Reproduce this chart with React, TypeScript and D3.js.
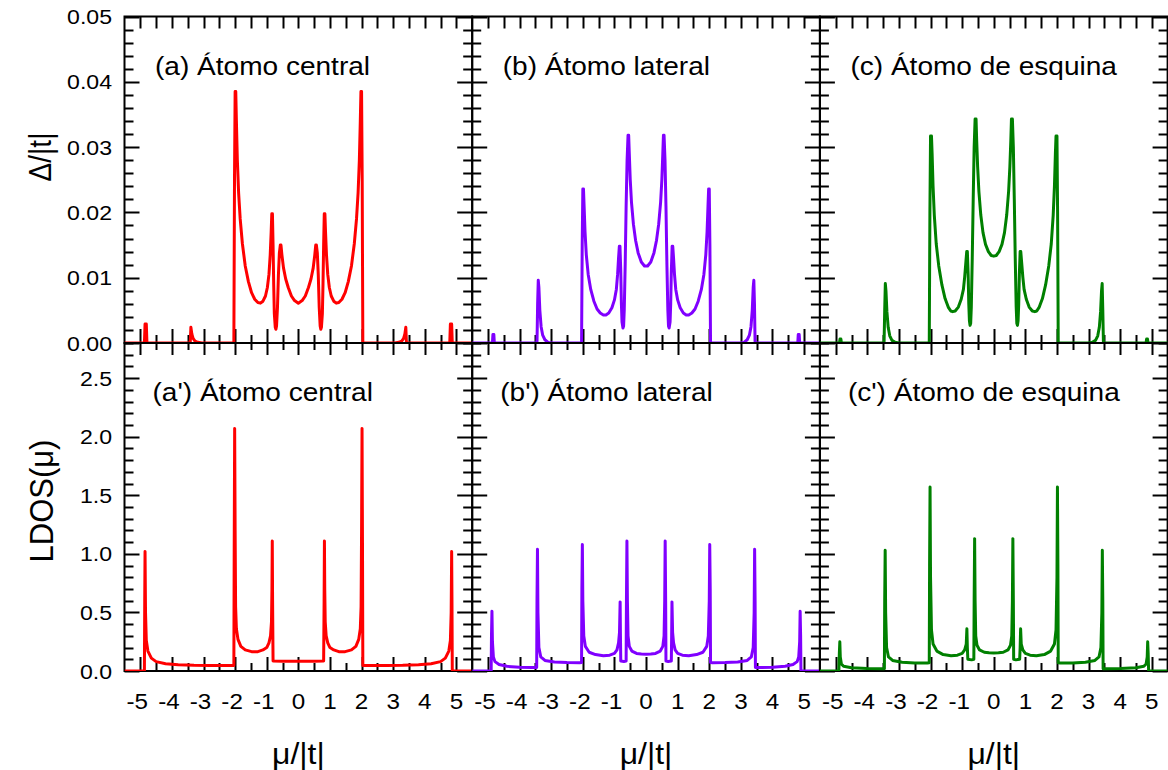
import React from 'react';
import * as d3 from 'd3';

type Pt = [number, number];

const X_DOMAIN: [number, number] = [-5.5, 5.5];
const X_TICK_LABELS = [-5, -4, -3, -2, -1, 0, 1, 2, 3, 4, 5];
const GAP_DOMAIN: [number, number] = [0, 0.05];
const GAP_TICKS = [0, 0.01, 0.02, 0.03, 0.04, 0.05];
const LDOS_DOMAIN: [number, number] = [0, 2.8];
const LDOS_TICKS = [0, 0.5, 1.0, 1.5, 2.0, 2.5];
const PANEL_COLORS = ['#ff0000', '#8000ff', '#008000'];
const GAP_LABELS = ['(a) Átomo central', '(b) Átomo lateral', '(c) Átomo de esquina'];
const LDOS_LABELS = ["(a') Átomo central", "(b') Átomo lateral", "(c') Átomo de esquina"];

// Δ/|t| — central atom
const gapCentral: Pt[] = [
  [-5.5, 0], [-4.87, 0], [-4.85, 0.0029], [-4.81, 0.0029], [-4.79, 0],
  [-3.42, 0], [-3.4, 0.0024], [-3.37, 0.0014], [-3.33, 0.0007], [-3.27, 0.0003], [-3.18, 0.0001], [-3.05, 0],
  [-2.04, 0], [-2.02, 0.025], [-2.0, 0.0385], [-1.98, 0.0385], [-1.96, 0.034], [-1.93, 0.028], [-1.89, 0.023],
  [-1.84, 0.019], [-1.77, 0.0152], [-1.68, 0.0118], [-1.58, 0.0094], [-1.48, 0.0077], [-1.38, 0.0067],
  [-1.28, 0.0062], [-1.2, 0.0061], [-1.12, 0.0064], [-1.04, 0.0072], [-0.98, 0.0085], [-0.93, 0.0105],
  [-0.89, 0.0135], [-0.86, 0.017], [-0.84, 0.0198], [-0.82, 0.0198], [-0.8, 0.015], [-0.78, 0.009],
  [-0.76, 0.0045], [-0.73, 0.0024], [-0.71, 0.0021], [-0.69, 0.0026], [-0.66, 0.0055], [-0.63, 0.0105],
  [-0.6, 0.0138], [-0.57, 0.015], [-0.55, 0.015], [-0.52, 0.0135], [-0.47, 0.0115], [-0.4, 0.0098],
  [-0.32, 0.0085], [-0.22, 0.0072], [-0.12, 0.0065], [0, 0.0061],
  [0.12, 0.0065], [0.22, 0.0072], [0.32, 0.0085], [0.4, 0.0098], [0.47, 0.0115], [0.52, 0.0135],
  [0.55, 0.015], [0.57, 0.015], [0.6, 0.0138], [0.63, 0.0105], [0.66, 0.0055], [0.69, 0.0026],
  [0.71, 0.0021], [0.73, 0.0024], [0.76, 0.0045], [0.78, 0.009], [0.8, 0.015], [0.82, 0.0198],
  [0.84, 0.0198], [0.86, 0.017], [0.89, 0.0135], [0.93, 0.0105], [0.98, 0.0085], [1.04, 0.0072],
  [1.12, 0.0064], [1.2, 0.0061], [1.28, 0.0062], [1.38, 0.0067], [1.48, 0.0077], [1.58, 0.0094],
  [1.68, 0.0118], [1.77, 0.0152], [1.84, 0.019], [1.89, 0.023], [1.93, 0.028], [1.96, 0.034],
  [1.98, 0.0385], [2.0, 0.0385], [2.02, 0.025], [2.04, 0],
  [3.05, 0], [3.18, 0.0001], [3.27, 0.0003], [3.33, 0.0007], [3.37, 0.0014], [3.4, 0.0024], [3.42, 0],
  [4.79, 0], [4.81, 0.0029], [4.85, 0.0029], [4.87, 0], [5.5, 0],
];

// Δ/|t| — lateral atom
const gapLateral: Pt[] = [
  [-5.5, 0], [-4.86, 0], [-4.845, 0.0013], [-4.815, 0.0013], [-4.8, 0],
  [-3.45, 0], [-3.43, 0.006], [-3.41, 0.0096], [-3.39, 0.0085], [-3.36, 0.005], [-3.32, 0.0025],
  [-3.27, 0.0012], [-3.2, 0.0005], [-3.1, 0.0001], [-3.0, 0],
  [-2.04, 0], [-2.02, 0.015], [-2.0, 0.0236], [-1.98, 0.0236], [-1.96, 0.021], [-1.93, 0.017],
  [-1.89, 0.0135], [-1.83, 0.0105], [-1.75, 0.0082], [-1.65, 0.0064], [-1.55, 0.0052], [-1.45, 0.0046],
  [-1.35, 0.0043], [-1.27, 0.0043], [-1.18, 0.0046], [-1.08, 0.0054], [-1.0, 0.0066], [-0.94, 0.0082],
  [-0.9, 0.0105], [-0.87, 0.013], [-0.845, 0.0148], [-0.825, 0.0148], [-0.8, 0.011], [-0.78, 0.006],
  [-0.76, 0.0032], [-0.73, 0.0023], [-0.71, 0.0026], [-0.69, 0.005], [-0.66, 0.012], [-0.63, 0.021],
  [-0.6, 0.028], [-0.57, 0.0318], [-0.55, 0.0318], [-0.53, 0.029], [-0.5, 0.025], [-0.46, 0.0215],
  [-0.4, 0.0182], [-0.33, 0.0157], [-0.25, 0.0138], [-0.15, 0.0124], [-0.05, 0.0118], [0, 0.0118],
  [0.05, 0.0118], [0.15, 0.0124], [0.25, 0.0138], [0.33, 0.0157], [0.4, 0.0182], [0.46, 0.0215],
  [0.5, 0.025], [0.53, 0.029], [0.55, 0.0318], [0.57, 0.0318], [0.6, 0.028], [0.63, 0.021],
  [0.66, 0.012], [0.69, 0.005], [0.71, 0.0026], [0.73, 0.0023], [0.76, 0.0032], [0.78, 0.006],
  [0.8, 0.011], [0.825, 0.0148], [0.845, 0.0148], [0.87, 0.013], [0.9, 0.0105], [0.94, 0.0082],
  [1.0, 0.0066], [1.08, 0.0054], [1.18, 0.0046], [1.27, 0.0043], [1.35, 0.0043], [1.45, 0.0046],
  [1.55, 0.0052], [1.65, 0.0064], [1.75, 0.0082], [1.83, 0.0105], [1.89, 0.0135], [1.93, 0.017],
  [1.96, 0.021], [1.98, 0.0236], [2.0, 0.0236], [2.02, 0.015], [2.04, 0],
  [3.0, 0], [3.1, 0.0001], [3.2, 0.0005], [3.27, 0.0012], [3.32, 0.0025], [3.36, 0.005], [3.39, 0.0085],
  [3.41, 0.0096], [3.43, 0.006], [3.45, 0],
  [4.8, 0], [4.815, 0.0013], [4.845, 0.0013], [4.86, 0], [5.5, 0],
];

// Δ/|t| — corner atom
const gapCorner: Pt[] = [
  [-5.5, 0], [-4.88, 0], [-4.865, 0.0006], [-4.835, 0.0006], [-4.82, 0],
  [-3.47, 0], [-3.45, 0.005], [-3.43, 0.0091], [-3.41, 0.008], [-3.38, 0.0048], [-3.34, 0.0024],
  [-3.29, 0.0011], [-3.22, 0.0004], [-3.12, 0.0001], [-3.0, 0],
  [-2.04, 0], [-2.02, 0.02], [-2.0, 0.0317], [-1.97, 0.0317], [-1.95, 0.029], [-1.92, 0.024],
  [-1.88, 0.0195], [-1.82, 0.0152], [-1.74, 0.0118], [-1.64, 0.0089], [-1.54, 0.0068], [-1.44, 0.0055],
  [-1.36, 0.0049], [-1.3, 0.0048], [-1.22, 0.0049], [-1.12, 0.0055], [-1.03, 0.0067], [-0.96, 0.0082],
  [-0.92, 0.0101], [-0.88, 0.0125], [-0.855, 0.014], [-0.835, 0.014], [-0.81, 0.0105], [-0.79, 0.006],
  [-0.77, 0.0034], [-0.75, 0.0027], [-0.73, 0.003], [-0.71, 0.0055], [-0.68, 0.013], [-0.65, 0.022],
  [-0.62, 0.03], [-0.59, 0.0343], [-0.56, 0.0343], [-0.54, 0.031], [-0.51, 0.027], [-0.47, 0.0232],
  [-0.41, 0.0196], [-0.34, 0.0169], [-0.26, 0.0151], [-0.17, 0.014], [-0.08, 0.0134], [0, 0.0133],
  [0.08, 0.0134], [0.17, 0.014], [0.26, 0.0151], [0.34, 0.0169], [0.41, 0.0196], [0.47, 0.0232],
  [0.51, 0.027], [0.54, 0.031], [0.56, 0.0343], [0.59, 0.0343], [0.62, 0.03], [0.65, 0.022],
  [0.68, 0.013], [0.71, 0.0055], [0.73, 0.003], [0.75, 0.0027], [0.77, 0.0034], [0.79, 0.006],
  [0.81, 0.0105], [0.835, 0.014], [0.855, 0.014], [0.88, 0.0125], [0.92, 0.0101], [0.96, 0.0082],
  [1.03, 0.0067], [1.12, 0.0055], [1.22, 0.0049], [1.3, 0.0048], [1.36, 0.0049], [1.44, 0.0055],
  [1.54, 0.0068], [1.64, 0.0089], [1.74, 0.0118], [1.82, 0.0152], [1.88, 0.0195], [1.92, 0.024],
  [1.95, 0.029], [1.97, 0.0317], [2.0, 0.0317], [2.02, 0.02], [2.04, 0],
  [3.0, 0], [3.12, 0.0001], [3.22, 0.0004], [3.29, 0.0011], [3.34, 0.0024], [3.38, 0.0048], [3.41, 0.008],
  [3.43, 0.0091], [3.45, 0.005], [3.47, 0],
  [4.82, 0], [4.835, 0.0006], [4.865, 0.0006], [4.88, 0], [5.5, 0],
];

// LDOS(μ) — central atom
const ldosCentral: Pt[] = [
  [-5.5, 0], [-4.87, 0], [-4.86, 0.6], [-4.85, 1.02], [-4.835, 0.5], [-4.81, 0.26], [-4.76, 0.17],
  [-4.65, 0.11], [-4.5, 0.08], [-4.2, 0.062], [-3.8, 0.054], [-3.3, 0.049], [-2.8, 0.047], [-2.3, 0.047],
  [-2.04, 0.048], [-2.03, 1.0], [-2.015, 2.07], [-2.0, 1.2], [-1.985, 0.55], [-1.96, 0.36], [-1.91, 0.27],
  [-1.82, 0.21], [-1.68, 0.18], [-1.48, 0.165], [-1.28, 0.165], [-1.12, 0.18], [-1.0, 0.2], [-0.93, 0.24],
  [-0.88, 0.3], [-0.85, 0.42], [-0.835, 0.7], [-0.825, 1.11], [-0.815, 0.6], [-0.8, 0.086],
  [-0.5, 0.084], [0, 0.083], [0.5, 0.084],
  [0.8, 0.086], [0.815, 0.6], [0.825, 1.11], [0.835, 0.7], [0.85, 0.42], [0.88, 0.3], [0.93, 0.24],
  [1.0, 0.2], [1.12, 0.18], [1.28, 0.165], [1.48, 0.165], [1.68, 0.18], [1.82, 0.21], [1.91, 0.27],
  [1.96, 0.36], [1.985, 0.55], [2.0, 1.2], [2.015, 2.07], [2.03, 1.0], [2.04, 0.048],
  [2.3, 0.047], [2.8, 0.047], [3.3, 0.049], [3.8, 0.054], [4.2, 0.062], [4.5, 0.08], [4.65, 0.11],
  [4.76, 0.17], [4.81, 0.26], [4.835, 0.5], [4.85, 1.02], [4.86, 0.6], [4.87, 0], [5.5, 0],
];

// LDOS(μ) — lateral atom
const ldosLateral: Pt[] = [
  [-5.5, 0], [-4.9, 0], [-4.89, 0.3], [-4.875, 0.51], [-4.86, 0.25], [-4.83, 0.12], [-4.78, 0.08],
  [-4.65, 0.055], [-4.4, 0.04], [-4.0, 0.032], [-3.6, 0.03], [-3.46, 0.03],
  [-3.45, 0.6], [-3.435, 1.04], [-3.42, 0.5], [-3.39, 0.2], [-3.33, 0.12], [-3.2, 0.09], [-2.9, 0.077],
  [-2.5, 0.072], [-2.1, 0.07], [-2.04, 0.072],
  [-2.03, 0.7], [-2.015, 1.08], [-2.0, 0.6], [-1.97, 0.3], [-1.92, 0.21], [-1.8, 0.16], [-1.6, 0.14],
  [-1.35, 0.13], [-1.15, 0.135], [-1.0, 0.15], [-0.92, 0.18], [-0.87, 0.24], [-0.84, 0.33],
  [-0.82, 0.59], [-0.81, 0.3], [-0.8, 0.085], [-0.7, 0.082], [-0.63, 0.085],
  [-0.62, 0.6], [-0.605, 1.11], [-0.59, 0.6], [-0.57, 0.3], [-0.53, 0.21], [-0.45, 0.17], [-0.3, 0.15],
  [-0.15, 0.145], [0, 0.143],
  [0.15, 0.145], [0.3, 0.15], [0.45, 0.17], [0.53, 0.21], [0.57, 0.3], [0.59, 0.6], [0.605, 1.11],
  [0.62, 0.6], [0.63, 0.085], [0.7, 0.082], [0.8, 0.085], [0.81, 0.3], [0.82, 0.59], [0.84, 0.33],
  [0.87, 0.24], [0.92, 0.18], [1.0, 0.15], [1.15, 0.135], [1.35, 0.13], [1.6, 0.14], [1.8, 0.16],
  [1.92, 0.21], [1.97, 0.3], [2.0, 0.6], [2.015, 1.08], [2.03, 0.7], [2.04, 0.072],
  [2.1, 0.07], [2.5, 0.072], [2.9, 0.077], [3.2, 0.09], [3.33, 0.12], [3.39, 0.2], [3.42, 0.5],
  [3.435, 1.04], [3.45, 0.6], [3.46, 0.03],
  [3.6, 0.03], [4.0, 0.032], [4.4, 0.04], [4.65, 0.055], [4.78, 0.08], [4.83, 0.12], [4.86, 0.25],
  [4.875, 0.51], [4.89, 0.3], [4.9, 0], [5.5, 0],
];

// LDOS(μ) — corner atom
const ldosCorner: Pt[] = [
  [-5.5, 0], [-4.9, 0], [-4.885, 0.15], [-4.87, 0.25], [-4.855, 0.12], [-4.82, 0.06], [-4.75, 0.04],
  [-4.5, 0.028], [-4.0, 0.022], [-3.5, 0.02], [-3.46, 0.02],
  [-3.45, 0.6], [-3.435, 1.03], [-3.42, 0.5], [-3.39, 0.2], [-3.33, 0.12], [-3.2, 0.09], [-2.9, 0.075],
  [-2.5, 0.068], [-2.1, 0.068], [-2.04, 0.07],
  [-2.03, 0.9], [-2.015, 1.57], [-2.0, 0.8], [-1.97, 0.35], [-1.92, 0.23], [-1.8, 0.17], [-1.6, 0.14],
  [-1.35, 0.13], [-1.15, 0.135], [-1.0, 0.15], [-0.92, 0.18], [-0.87, 0.23], [-0.85, 0.36],
  [-0.835, 0.2], [-0.82, 0.1], [-0.7, 0.095], [-0.63, 0.1],
  [-0.62, 0.6], [-0.605, 1.13], [-0.59, 0.6], [-0.57, 0.3], [-0.53, 0.22], [-0.45, 0.18], [-0.3, 0.16],
  [-0.15, 0.155], [0, 0.153],
  [0.15, 0.155], [0.3, 0.16], [0.45, 0.18], [0.53, 0.22], [0.57, 0.3], [0.59, 0.6], [0.605, 1.13],
  [0.62, 0.6], [0.63, 0.1], [0.7, 0.095], [0.82, 0.1], [0.835, 0.2], [0.85, 0.36], [0.87, 0.23],
  [0.92, 0.18], [1.0, 0.15], [1.15, 0.135], [1.35, 0.13], [1.6, 0.14], [1.8, 0.17], [1.92, 0.23],
  [1.97, 0.35], [2.0, 0.8], [2.015, 1.57], [2.03, 0.9], [2.04, 0.07],
  [2.1, 0.068], [2.5, 0.068], [2.9, 0.075], [3.2, 0.09], [3.33, 0.12], [3.39, 0.2], [3.42, 0.5],
  [3.435, 1.03], [3.45, 0.6], [3.46, 0.02],
  [3.5, 0.02], [4.0, 0.022], [4.5, 0.028], [4.75, 0.04], [4.82, 0.06], [4.855, 0.12], [4.87, 0.25],
  [4.885, 0.15], [4.9, 0], [5.5, 0],
];

const GAP_SERIES = [gapCentral, gapLateral, gapCorner];
const LDOS_SERIES = [ldosCentral, ldosLateral, ldosCorner];

const W = 1168;
const H = 770;
const PLOT_LEFT = 124.5;
const PANEL_W = 347.7;
const ROW_TOP = 16.5;
const ROW_MID = 343;
const ROW_BOT = 671;
const FONT = 'Arial, "Liberation Sans", Helvetica, sans-serif';
const SX = 1.1; // horizontal glyph stretch seen in the reference

function HText(props: { x: number; y: number; size: number; anchor?: string; children: React.ReactNode }) {
  const { x, y, size, anchor = 'start', children } = props;
  return (
    <text
      transform={`translate(${x},${y}) scale(${SX},1)`}
      fontSize={size}
      fontFamily={FONT}
      textAnchor={anchor}
      fill="#000"
    >
      {children}
    </text>
  );
}

function Panel(props: { col: number; row: number }) {
  const { col, row } = props;
  const x0 = PLOT_LEFT + col * PANEL_W;
  const x1 = x0 + PANEL_W;
  const y0 = row === 0 ? ROW_TOP : ROW_MID;
  const y1 = row === 0 ? ROW_MID : ROW_BOT;
  const x = d3.scaleLinear().domain(X_DOMAIN).range([x0, x1]);
  const y = d3
    .scaleLinear()
    .domain(row === 0 ? GAP_DOMAIN : LDOS_DOMAIN)
    .range([y1, y0]);
  const data = row === 0 ? GAP_SERIES[col] : LDOS_SERIES[col];
  const line = d3
    .line<Pt>()
    .x((d) => x(d[0]))
    .y((d) => y(d[1]));

  const xTicks = d3.range(-5, 5.0001, 0.5);
  const yMajor = row === 0 ? GAP_TICKS : LDOS_TICKS;
  const yMinor = row === 0 ? d3.range(0, 0.0501, 0.002) : d3.range(0, 2.8001, 0.1);

  const clipId = `clip-${row}-${col}`;
  const isInt = (v: number) => Math.abs(v - Math.round(v)) < 1e-6;
  const isMajorY = (v: number) => yMajor.some((m) => Math.abs(m - v) < 1e-6);

  const tickEls: React.ReactNode[] = [];
  xTicks.forEach((t, i) => {
    const px = Math.round(x(t)) + 0.5;
    const longB = isInt(t) ? 14 : 8;
    tickEls.push(<line key={`xb${i}`} x1={px} x2={px} y1={y1} y2={y1 - longB} />);
    const longT = row === 0 ? 12 : isInt(t) ? 12 : 7;
    tickEls.push(<line key={`xt${i}`} x1={px} x2={px} y1={y0} y2={y0 + longT} />);
  });
  yMinor.forEach((t, i) => {
    const py = Math.round(y(t)) + 0.5;
    const len = isMajorY(t) ? 15 : 9;
    tickEls.push(<line key={`yl${i}`} x1={x0} x2={x0 + len} y1={py} y2={py} />);
    tickEls.push(<line key={`yr${i}`} x1={x1} x2={x1 - len} y1={py} y2={py} />);
  });

  return (
    <g>
      <defs>
        <clipPath id={clipId}>
          <rect x={x0} y={y0 - 2} width={PANEL_W} height={y1 - y0 + 2} />
        </clipPath>
      </defs>
      <g stroke="#000" strokeWidth={2}>{tickEls}</g>
      <rect x={x0} y={y0} width={PANEL_W} height={y1 - y0} fill="none" stroke="#000" strokeWidth={2} />
      <path
        d={line(data) || ''}
        fill="none"
        stroke={PANEL_COLORS[col]}
        strokeWidth={3}
        strokeLinejoin="round"
        clipPath={`url(#${clipId})`}
      />
      <HText x={x0 + (row === 0 ? 30.5 : 28)} y={row === 0 ? 75 : 401} size={25.5}>
        {row === 0 ? GAP_LABELS[col] : LDOS_LABELS[col]}
      </HText>
      {col === 0 &&
        yMajor.map((t, i) => (
          <HText key={`yl${i}`} x={112} y={y(t) + 7.5} size={21} anchor="end">
            {row === 0 ? d3.format('.2f')(t) : d3.format('.1f')(t)}
          </HText>
        ))}
      {row === 1 &&
        X_TICK_LABELS.map((t, i) => (
          <HText key={`xl${i}`} x={x(t) - (t < 0 ? 3 : 0)} y={709} size={22} anchor="middle">
            {String(t)}
          </HText>
        ))}
      {row === 1 && (
        <HText x={x(0)} y={764} size={29} anchor="middle">
          μ/|t|
        </HText>
      )}
    </g>
  );
}

export default function App() {
  const panels: React.ReactNode[] = [];
  for (let row = 0; row < 2; row++) {
    for (let col = 0; col < 3; col++) {
      panels.push(<Panel key={`${row}-${col}`} row={row} col={col} />);
    }
  }
  return (
    <svg
      width={W}
      height={H}
      viewBox={`0 0 ${W} ${H}`}
      style={{ position: 'absolute', left: 0, top: 0, display: 'block', background: '#fff' }}
    >
      <rect x={0} y={0} width={W} height={H} fill="#fff" />
      {panels}
      <text
        transform={`translate(51,157) rotate(-90) scale(1,${SX})`}
        fontSize={28}
        fontFamily={FONT}
        textAnchor="middle"
      >
        Δ/|t|
      </text>
      <text
        transform={`translate(53,501) rotate(-90) scale(1,${SX})`}
        fontSize={31}
        fontFamily={FONT}
        textAnchor="middle"
      >
        LDOS(μ)
      </text>
    </svg>
  );
}
